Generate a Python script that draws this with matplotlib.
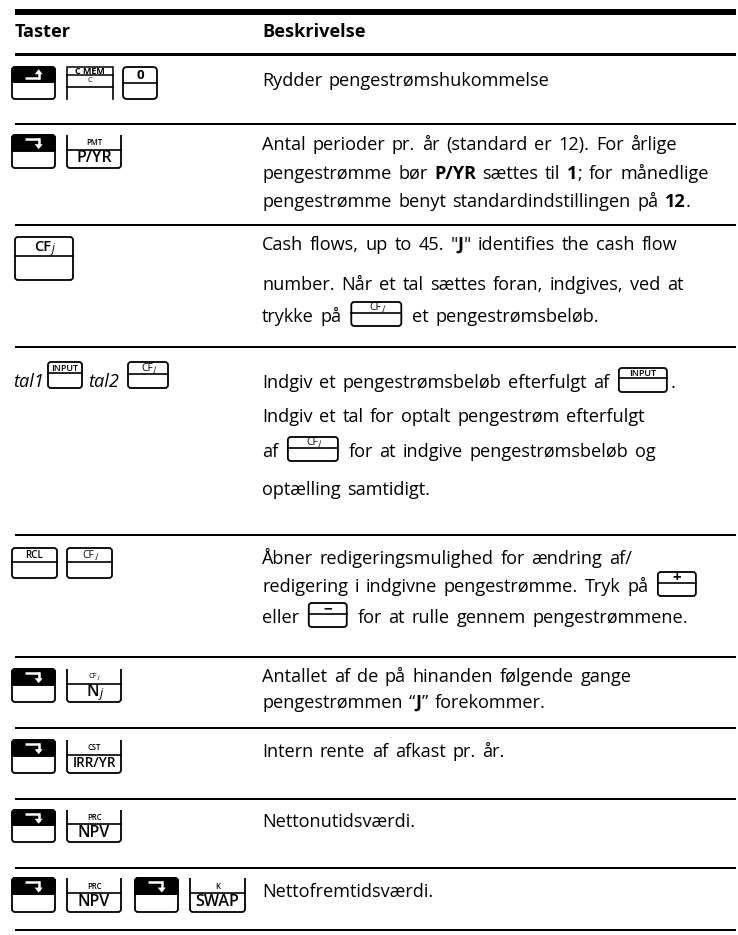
import matplotlib
matplotlib.use("Agg")
import matplotlib.pyplot as plt
from matplotlib.patches import FancyBboxPatch, Rectangle, PathPatch, Polygon
from matplotlib.path import Path

FONT = "Open Sans"
FS = 13.1
SPACE_SCALE = 1.4

# ==========================
# 1. Table content
# ==========================
header = ("Taster", "Beskrivelse")

# left column tokens per row
keys = [
    [("shift_up",), ("cmem",), ("zero",)],
    [("shift_dn",), ("fn", "PMT", "P/YR")],
    [("key", "CFj")],
    [("italic", "tal1"), ("key", "INPUT"), ("italic", "tal2"), ("key", "CFj")],
    [("key", "RCL"), ("key", "CFj")],
    [("shift_dn",), ("fn", "CFj", "Nj")],
    [("shift_dn",), ("fn", "CST", "IRR/YR")],
    [("shift_dn",), ("fn", "PRC", "NPV")],
    [("shift_dn",), ("fn", "PRC", "NPV"), ("shift_dn",), ("fn", "K", "SWAP")],
]

# right column: lines of (text, style) runs, style n=normal b=bold key=inline key
descriptions = [
    [[("Rydder pengestrømshukommelse", "n")]],
    [[("Antal perioder pr. år (standard er 12). For årlige", "n")],
     [("pengestrømme bør ", "n"), ("P/YR", "b"), (" sættes til ", "n"), ("1", "b"),
      ("; for månedlige", "n")],
     [("pengestrømme benyt standardindstillingen på ", "n"), ("12", "b"), (".", "n")]],
    [[('Cash flows, up to 45. "', "n"), ("J", "b"), ('" identifies the cash flow', "n")],
     [("number. Når et tal sættes foran, indgives, ved at", "n")],
     [("trykke på ", "n"), ("CFj", "key"), (" et pengestrømsbeløb.", "n")]],
    [[("Indgiv et pengestrømsbeløb efterfulgt af ", "n"), ("INPUT", "key"), (".", "n")],
     [("Indgiv et tal for optalt pengestrøm efterfulgt", "n")],
     [("af ", "n"), ("CFj", "key"), (" for at indgive pengestrømsbeløb og", "n")],
     [("optælling samtidigt.", "n")]],
    [[("Åbner redigeringsmulighed for ændring af/", "n")],
     [("redigering i indgivne pengestrømme. Tryk på ", "n"), ("+", "key")],
     [("eller ", "n"), ("−", "key"), (" for at rulle gennem pengestrømmene.", "n")]],
    [[("Antallet af de på hinanden følgende gange", "n")],
     [("pengestrømmen “", "n"), ("J", "b"), ("” forekommer.", "n")]],
    [[("Intern rente af afkast pr. år.", "n")]],
    [[("Nettonutidsværdi.", "n")]],
    [[("Nettofremtidsværdi.", "n")]],
]

# ==========================
# 2. Layout (pixels)
# ==========================
rules = [124, 225, 347, 535, 657, 728, 799, 868, 930]
text_y = [[81], [145, 174, 202], [245, 285, 317], [383, 417, 452, 490],
          [559, 587, 618], [677, 703], [752], [822], [892]]
key_top = [67, 135, 237, 362, 548, 669, 740, 810, 878]
key_h = [32, 33, 43, 26, 30, 33, 33, 32, 34]
key_x = [[12, 67, 123], [12, 67], [15], [13, 48, 88, 128], [12, 67],
         [12, 67], [12, 67], [12, 67], [12, 67, 135, 190]]
key_w = [[43, 46, 34], [43, 54], [58], [0, 34, 0, 40], [45, 45],
         [43, 54], [43, 54], [43, 54], [43, 54, 43, 55]]
inline_w = {"CFj": 50, "INPUT": 48, "+": 38, "−": 38}
X_DESC = 262

fig = plt.figure(figsize=(7.38, 9.35), dpi=100)
ax = fig.add_axes([0, 0, 1, 1])
ax.set_xlim(0, 738)
ax.set_ylim(935, 0)
ax.axis("off")
renderer = fig.canvas.get_renderer()


def txt(x, y, s, **kw):
    kw.setdefault("fontfamily", FONT)
    return ax.text(x, y, s, **kw)


def width_of(s, **kw):
    t = txt(0, 0, s, **kw)
    w = t.get_window_extent(renderer).width
    t.remove()
    return w


def draw_runs(x, base, runs, size=FS):
    # draws word by word so the word spacing can be widened a little
    for s, style in runs:
        if style == "key":
            w = inline_w[s]
            label_key(x + 3, base - 20, w, 24, s, inline=True)
            x += w + 7
            continue
        kw = dict(fontsize=size, fontweight="bold" if style == "b" else "normal")
        sp = (width_of("a a", **kw) - width_of("aa", **kw)) * SPACE_SCALE
        parts = s.split(" ")
        for j, word in enumerate(parts):
            if word:
                t = txt(x, base, word, va="baseline", ha="left", **kw)
                x += t.get_window_extent(renderer).width
            if j < len(parts) - 1:
                x += sp
    return x


def cfj_label(cx, cy, size, weight="normal"):
    w1 = width_of("CF", fontsize=size, fontweight=weight)
    w2 = width_of("j", fontsize=size * 0.8, fontstyle="italic")
    x0 = cx - (w1 + w2) / 2
    txt(x0, cy, "CF", fontsize=size, fontweight=weight, va="center", ha="left")
    txt(x0 + w1 + 0.5, cy + size * 0.12, "j", fontsize=size * 0.8,
        fontstyle="italic", va="center", ha="left")


def nj_label(cx, cy, size):
    w1 = width_of("N", fontsize=size, fontweight="semibold")
    w2 = width_of("j", fontsize=size * 0.8, fontstyle="italic")
    x0 = cx - (w1 + w2) / 2
    txt(x0, cy, "N", fontsize=size, fontweight="semibold", va="center", ha="left")
    txt(x0 + w1 + 0.5, cy + 1, "j", fontsize=size * 0.8, fontstyle="italic",
        va="center", ha="left")


def outline(x, y, w, h, r=3, fc="white", lw=1.3):
    ax.add_patch(FancyBboxPatch((x, y), w, h, boxstyle=f"round,pad=0,rounding_size={r}",
                                fc=fc, ec="black", lw=lw))


def label_key(x, y, w, h, label, inline=False):
    outline(x, y, w, h)
    div = y + h * (0.45 if label != "INPUT" else 0.42)
    ax.plot([x, x + w], [div, div], color="black", lw=1.2)
    cy = (y + div) / 2
    if label == "CFj":
        if inline or h < 35:
            cfj_label(x + w / 2, cy + 0.5, 7.5)
        else:
            cfj_label(x + w / 2, cy + 0.5, 10.5, "semibold")
    elif label in ("+", "−"):
        txt(x + w / 2, cy + 0.5, label, fontsize=11, fontweight="bold", ha="center", va="center")
    elif label == "INPUT":
        txt(x + w / 2, cy + 0.8, label, fontsize=6.5, fontweight="semibold",
            ha="center", va="center")
    else:
        txt(x + w / 2, cy + 0.5, label, fontsize=7, fontweight="semibold",
            ha="center", va="center")


def shift_key(x, y, w, h, up):
    outline(x, y, w, h)
    th = h * 0.47
    ax.add_patch(FancyBboxPatch((x, y), w, th, boxstyle="round,pad=0,rounding_size=3",
                                fc="black", ec="black", lw=1.3))
    ax.add_patch(Rectangle((x, y + th - 4), w, 4, fc="black", ec="black", lw=1.3))
    ax_ = x + w * 0.62
    if up:
        yb, yt = y + th * 0.75, y + th * 0.15
        ax.plot([x + w * 0.3, ax_], [yb, yb], color="white", lw=1.8, solid_capstyle="butt")
        ax.plot([ax_, ax_], [yb, yt + 4], color="white", lw=1.8)
        ax.add_patch(Polygon([(ax_ - 4, yt + 5), (ax_ + 4, yt + 5), (ax_, yt)],
                             fc="white", ec="none"))
    else:
        yb, yt = y + th * 0.28, y + th * 0.85
        ax.plot([x + w * 0.3, ax_], [yb, yb], color="white", lw=1.8, solid_capstyle="butt")
        ax.plot([ax_, ax_], [yb, yt - 3], color="white", lw=1.8)
        ax.add_patch(Polygon([(ax_ - 4, yt - 4), (ax_ + 4, yt - 4), (ax_, yt + 1)],
                             fc="white", ec="none"))


def fn_key(x, y, w, h, small, big):
    r = 3
    verts = [(x, y), (x, y + h - r), (x, y + h), (x + r, y + h), (x + w - r, y + h),
             (x + w, y + h), (x + w, y + h - r), (x + w, y)]
    codes = [Path.MOVETO, Path.LINETO, Path.CURVE3, Path.CURVE3, Path.LINETO,
             Path.CURVE3, Path.CURVE3, Path.LINETO]
    ax.add_patch(PathPatch(Path(verts, codes), fc="none", ec="black", lw=1.3))
    div = y + h * 0.45
    ax.plot([x, x + w], [div, div], color="black", lw=1.2)
    if small == "CFj":
        cfj_label(x + w / 2, y + h * 0.24, 5.5)
    else:
        txt(x + w / 2, y + h * 0.24, small, fontsize=5.5, fontweight="semibold",
            ha="center", va="center")
    if big == "Nj":
        nj_label(x + w / 2, y + h * 0.71, 11.5)
    else:
        txt(x + w / 2, y + h * 0.71, big, fontsize=11.5 if len(big) < 5 else 9.8,
            fontweight="semibold", ha="center", va="center")


def cmem_key(x, y, w, h):
    ax.add_patch(Rectangle((x, y), w, 8, fc="white", ec="black", lw=1.1))
    txt(x + w / 2, y + 4.2, "C MEM", fontsize=6.5, fontweight="bold", ha="center", va="center")
    ax.plot([x, x], [y + 8, y + h], color="black", lw=1.2)
    ax.plot([x + w, x + w], [y + 8, y + h], color="black", lw=1.2)
    ax.plot([x, x + w], [y + 20, y + 20], color="black", lw=1.2)
    txt(x + w / 2, y + 14, "C", fontsize=5.5, ha="center", va="center")


def zero_key(x, y, w, h):
    outline(x, y, w, h, r=4)
    div = y + h * 0.5
    ax.plot([x, x + w], [div, div], color="black", lw=1.2)
    txt(x + w / 2, y + h * 0.26, "0", fontsize=9.5, fontweight="bold", ha="center", va="center")


# ==========================
# 3. Rules and header
# ==========================
ax.add_patch(Rectangle((15, 8.5), 721, 6.5, fc="black", ec="none"))
ax.add_patch(Rectangle((15, 53), 721, 3, fc="black", ec="none"))
for y in rules:
    ax.add_patch(Rectangle((15, y - 1), 721, 2, fc="black", ec="none"))

txt(15, 37, header[0], fontsize=FS, fontweight="bold", va="baseline")
txt(X_DESC, 37, header[1], fontsize=FS, fontweight="bold", va="baseline")

# ==========================
# 4. Rows
# ==========================
for i, row in enumerate(keys):
    top, h = key_top[i], key_h[i]
    for tok, x, w in zip(row, key_x[i], key_w[i]):
        kind = tok[0]
        if kind == "shift_up":
            shift_key(x, top, w, h, up=True)
        elif kind == "shift_dn":
            shift_key(x, top, w, h, up=False)
        elif kind == "fn":
            fn_key(x, top, w, h, tok[1], tok[2])
        elif kind == "key":
            label_key(x, top, w, h, tok[1])
        elif kind == "cmem":
            cmem_key(x, top, w, h)
        elif kind == "zero":
            zero_key(x, top, w, h)
        elif kind == "italic":
            txt(x, top + h - 1, tok[1], fontsize=FS, fontstyle="italic", va="baseline")

    for runs, yc in zip(descriptions[i], text_y[i]):
        draw_runs(X_DESC, yc + 5, runs)

fig.savefig("out.png", dpi=100)
